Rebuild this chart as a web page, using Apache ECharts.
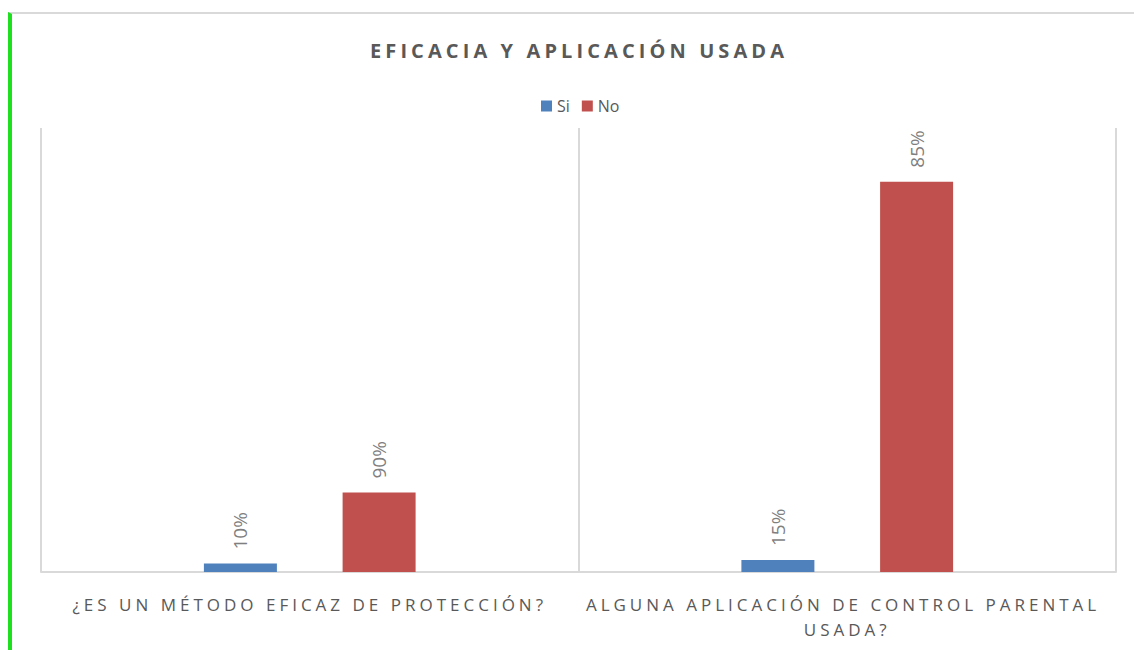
<!DOCTYPE html>
<html>
<head>
<meta charset="utf-8">
<title>Eficacia y aplicación usada</title>
<script src="https://cdn.jsdelivr.net/npm/echarts@6/dist/echarts.min.js"></script>
<style>
  html, body { margin: 0; padding: 0; background: #fff; }
  #frame { position: absolute; left: 8px; top: 12px; width: 1126px; height: 638px;
           border-left: 4px solid #1ee01e; border-top: 2px solid #d9d9d9; box-sizing: border-box; }
  #chart { position: absolute; left: 0; top: 0; width: 1134px; height: 650px; }
</style>
</head>
<body>
<div id="frame"></div>
<div id="chart"></div>
<script>
/* ---------------------- Datos ---------------------- */
const TITLE = "EFICACIA Y APLICACIÓN USADA";
const CATEGORIES = ["¿ES UN MÉTODO EFICAZ DE PROTECCIÓN?", "ALGUNA APLICACIÓN DE CONTROL PARENTAL USADA?"];
const SERIES_NAMES = ["Si", "No"];
// alturas de barra tal como aparecen (escala 0-100)
const SI_VALUES = [1.9, 2.7];
const NO_VALUES = [17.9, 87.9];
// etiquetas que muestra el gráfico
const SI_LABELS = ["10%", "15%"];
const NO_LABELS = ["90%", "85%"];

const COLORS = { blue: "#4f81bd", red: "#c0504d", text: "#595959", label: "#7f7f7f", line: "#d9d9d9" };
const FONT = "'Open Sans', sans-serif";

const chart = echarts.init(document.getElementById("chart"), null, { renderer: "svg" });

function barLabel(labels) {
  return {
    show: true, position: "top", rotate: 90, align: "left", verticalAlign: "middle", distance: 14,
    color: COLORS.label, fontSize: 19, fontFamily: FONT,
    formatter: p => labels[p.dataIndex],
  };
}

chart.setOption({
  animation: false,
  title: {
    text: TITLE, left: 365, top: 35,
    textStyle: { fontFamily: FONT, fontSize: 20, fontWeight: "bold", color: COLORS.text },
  },
  legend: {
    data: SERIES_NAMES, left: 536, top: 93, itemWidth: 11, itemHeight: 11, itemGap: 12,
    icon: "rect", textStyle: { fontFamily: FONT, fontSize: 16, color: COLORS.text },
  },
  grid: { left: 41, right: 18, top: 128, bottom: 78 },
  xAxis: {
    type: "category", data: CATEGORIES,
    axisLine: { lineStyle: { color: COLORS.line, width: 2 } },
    axisTick: { show: false },
    splitLine: { show: true, lineStyle: { color: COLORS.line, width: 2 } },
    axisLabel: { interval: 0, margin: 20, fontFamily: FONT, fontSize: 17, color: COLORS.text,
                 lineHeight: 25, width: 400, overflow: "break" },
  },
  yAxis: { type: "value", min: 0, max: 100, show: false, splitLine: { show: false } },
  series: [
    { name: SERIES_NAMES[0], type: "bar", data: SI_VALUES, barWidth: 73, barGap: "90%",
      itemStyle: { color: COLORS.blue }, label: barLabel(SI_LABELS) },
    { name: SERIES_NAMES[1], type: "bar", data: NO_VALUES, barWidth: 73, barGap: "90%",
      itemStyle: { color: COLORS.red }, label: barLabel(NO_LABELS) },
  ],
});

// espaciado de letras del título y de las categorías (como en el original)
function applySpacing() {
  document.querySelectorAll("#chart svg text").forEach(t => {
    const s = t.textContent.trim();
    if (s === TITLE) t.style.letterSpacing = "4.1px";
    else if (s.length > 3 && CATEGORIES.some(c => c.includes(s))) t.style.letterSpacing = "4px";
  });
}
chart.on("finished", applySpacing);
applySpacing();
</script>
</body>
</html>
